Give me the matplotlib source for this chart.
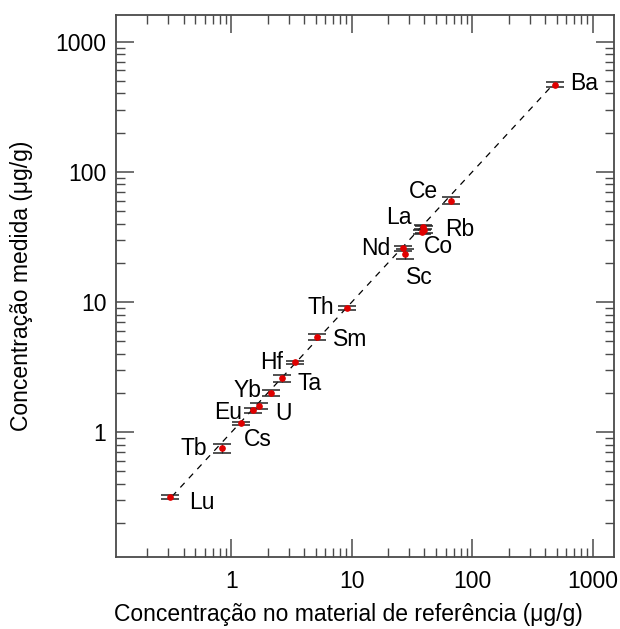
import matplotlib
matplotlib.use("Agg")
import matplotlib.pyplot as plt
import numpy as np

# Data: reference concentration (x), measured concentration (y), uncertainty (yerr)
elements = ["Ba", "Ce", "La", "Rb", "Co", "Nd", "Sc", "Th", "Sm", "Hf",
            "Ta", "Yb", "U", "Eu", "Cs", "Tb", "Lu"]
ref_conc = [490, 66, 39, 40, 38, 26.5, 27.5, 9.1, 5.1, 3.4,
            2.65, 2.15, 1.7, 1.5, 1.19, 0.83, 0.31]
meas_conc = [465, 60, 37.7, 36, 34.5, 25.8, 23.3, 9.05, 5.4, 3.45,
             2.6, 2.0, 1.6, 1.47, 1.17, 0.755, 0.317]
meas_err = [20, 3.6, 1.5, 2.0, 1.5, 1.0, 2.0, 0.3, 0.3, 0.1,
            0.15, 0.12, 0.08, 0.06, 0.03, 0.06, 0.01]
# label offsets in pixels (dx right, dy down) and horizontal alignment
label_dx = [15, -13, -11, 21, 2, -13, 1, -13, 16, -12, 15, -10, 16, -11, 3, -15, 19]
label_dy = [-3, -11, -11, -2, 13, -2, 21, -2, 1, -2, 3, -4, 6, 0, 14, -1, 3]
label_ha = ["left", "right", "right", "left", "left", "right", "left", "right", "left",
            "right", "left", "right", "left", "right", "left", "right", "left"]
line_range = [0.32, 470]

plt.rcParams['font.family'] = ['Liberation Sans', 'DejaVu Sans']
fs = 16.5
edge = '#4a4a4a'

fig = plt.figure(figsize=(6.2, 6.29), dpi=100)
ax = fig.add_axes([116/620, 1-557/629, 498/620, 542/629])
ax.set_xscale('log')
ax.set_yscale('log')
ax.set_xlim(0.11, 1500)
ax.set_ylim(0.11, 1600)

ax.plot(line_range, line_range, ls=(0, (5, 5)), color='black', lw=0.9, zorder=1)

ax.errorbar(ref_conc, meas_conc, yerr=meas_err, fmt='none', ecolor='#222222',
            elinewidth=0.9, capsize=6.5, capthick=1.1, zorder=2)
ax.plot(ref_conc, meas_conc, 'o', color='#e00000', ms=3.8, mec='#e00000', zorder=3)

for el, x, y, dx, dy, ha in zip(elements, ref_conc, meas_conc, label_dx, label_dy, label_ha):
    ax.annotate(el, (x, y), xytext=(dx, -dy - 8.4), textcoords='offset pixels',
                ha=ha, va='baseline', fontsize=fs, color='black')

for s in ax.spines.values():
    s.set_color(edge)
    s.set_linewidth(1.3)
ax.tick_params(which='both', direction='in', top=True, right=True, colors=edge,
               labelcolor='black', labelsize=fs)
ax.tick_params(which='major', length=13, width=1.1, pad=7)
ax.tick_params(which='minor', length=6.5, width=1.0)
ax.tick_params(axis='x', which='major', pad=9)

from matplotlib.ticker import FixedLocator, FixedFormatter, LogLocator, NullFormatter
ax.xaxis.set_major_locator(FixedLocator([1, 10, 100, 1000]))
ax.xaxis.set_major_formatter(FixedFormatter(["1", "10", "100", "1000"]))
ax.yaxis.set_major_locator(FixedLocator([1, 10, 100, 1000]))
ax.yaxis.set_major_formatter(FixedFormatter(["1", "10", "100", "1000"]))
ax.xaxis.set_minor_locator(LogLocator(base=10, subs=np.arange(2, 10), numticks=20))
ax.yaxis.set_minor_locator(LogLocator(base=10, subs=np.arange(2, 10), numticks=20))
ax.xaxis.set_minor_formatter(NullFormatter())
ax.yaxis.set_minor_formatter(NullFormatter())

fig.text(348/620, 1-615/629, "Concentração no material de referência (μg/g)",
         ha='center', va='center', fontsize=fs)
fig.text(22/620, 1-286/629, "Concentração medida (μg/g)", rotation=90,
         ha='center', va='center', fontsize=fs)

fig.savefig("out.png", dpi=100)
